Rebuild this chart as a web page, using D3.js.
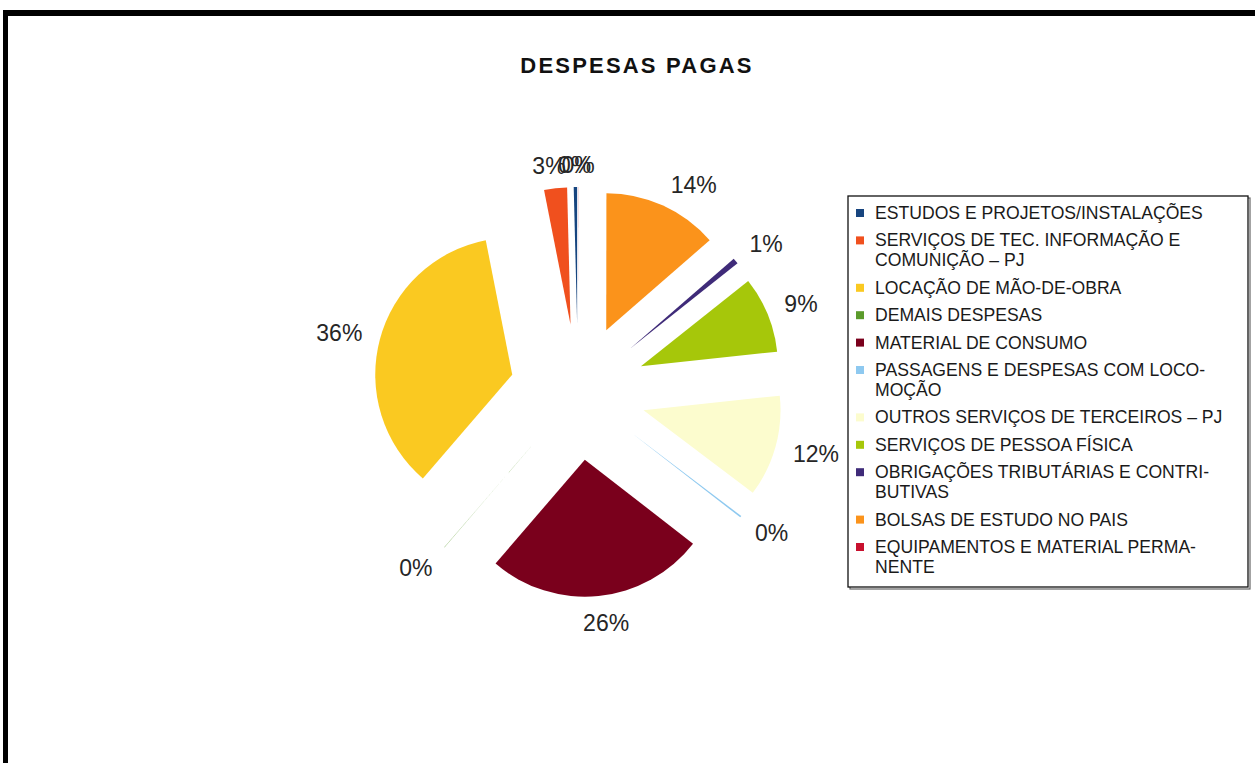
<!DOCTYPE html>
<html>
<head>
<meta charset="utf-8">
<script src="https://cdn.jsdelivr.net/npm/d3@7"></script>
<style>
  html, body { margin: 0; padding: 0; background: #fff; }
  svg { display: block; }
</style>
</head>
<body>
<svg id="chart" width="1255" height="763"></svg>
<script>
// ---- data (legend order; pie is drawn counter-clockwise from 12 o'clock) ----
const title = "DESPESAS PAGAS";
const categories = [
  "ESTUDOS E PROJETOS/INSTALAÇÕES",
  "SERVIÇOS DE TEC. INFORMAÇÃO E|COMUNIÇÃO – PJ",
  "LOCAÇÃO DE MÃO-DE-OBRA",
  "DEMAIS DESPESAS",
  "MATERIAL DE CONSUMO",
  "PASSAGENS E DESPESAS COM LOCO-|MOÇÃO",
  "OUTROS SERVIÇOS DE TERCEIROS – PJ",
  "SERVIÇOS DE PESSOA FÍSICA",
  "OBRIGAÇÕES TRIBUTÁRIAS E CONTRI-|BUTIVAS",
  "BOLSAS DE ESTUDO NO PAIS",
  "EQUIPAMENTOS E MATERIAL PERMA-|NENTE"
];
const values = [0.4, 2.7, 35.6, 0.02, 25.8, 0.2, 12.0, 9.0, 0.7, 13.6, 0.02];
const colors = [
  "#17457f", "#f0501e", "#fac921", "#5b9b2b", "#7a001c", "#8ec9f0",
  "#fcfcce", "#a6c70a", "#3f2b79", "#fb931b", "#c8102e"
];

// ---- layout ----
const svg = d3.select("#chart");
const cx = 578, cy = 392, R = 137, explode = 68, labelR = 223;
const labelFont = 23;

// frame (top and left edges of the black border)
svg.append("rect").attr("x", 3).attr("y", 10).attr("width", 1260).attr("height", 6).attr("fill", "#000");
svg.append("rect").attr("x", 3).attr("y", 10).attr("width", 5).attr("height", 760).attr("fill", "#000");

// title
svg.append("text")
  .attr("x", 637).attr("y", 73)
  .attr("text-anchor", "middle")
  .attr("font-family", "'Liberation Sans', Arial, sans-serif")
  .attr("font-weight", "bold")
  .attr("font-size", 22)
  .attr("letter-spacing", 2.2)
  .attr("fill", "#111")
  .text(title);

// pie
const pie = d3.pie().sort(null).value(d => d).startAngle(0).endAngle(-2 * Math.PI);
const arcs = pie(values);
const arc = d3.arc().innerRadius(0).outerRadius(R);
const total = d3.sum(values);

const g = svg.append("g");
g.selectAll("path.slice")
  .data(arcs)
  .join("path")
  .attr("class", "slice")
  .attr("d", arc)
  .attr("fill", (d, i) => colors[i])
  .attr("transform", d => {
    const m = (d.startAngle + d.endAngle) / 2;
    return `translate(${cx + explode * Math.sin(m)},${cy - explode * Math.cos(m)})`;
  });

// labels
const labels = g.selectAll("text.lbl")
  .data(arcs)
  .join("text")
  .attr("class", "lbl")
  .attr("font-family", "'Liberation Sans', Arial, sans-serif")
  .attr("font-size", labelFont)
  .attr("fill", "#262626")
  .attr("text-anchor", "middle")
  .text(d => Math.round(d.value / total * 100) + "%");

labels.each(function(d) {
  const m = (d.startAngle + d.endAngle) / 2;
  const s = Math.sin(m), c = Math.cos(m);
  const w = this.getComputedTextLength();
  const capH = 0.716 * labelFont;
  const px = cx + labelR * s, py = cy - labelR * c;
  const k = Math.max(-1, Math.min(1, s * 2.5));
  const x = px + (w / 2) * k;
  const yc = py - (capH / 2 + 0.5) * c + (c > 0.9 ? 4 : 0);
  d3.select(this).attr("x", x).attr("y", yc + capH / 2);
});

// legend
const lx = 848, ly = 196, lw = 400, lh = 391;
svg.append("rect").attr("x", lx + 2).attr("y", ly + 2).attr("width", lw).attr("height", lh)
  .attr("fill", "none").attr("stroke", "#666").attr("stroke-width", 1.2);
svg.append("rect").attr("x", lx).attr("y", ly).attr("width", lw).attr("height", lh)
  .attr("fill", "#fff").attr("stroke", "#111").attr("stroke-width", 1.3);

const legFont = 17.6;
const pitch = 27.4, wrap = 20;
let yy = 213;
const leg = svg.append("g");
categories.forEach((name, i) => {
  const lines = name.split("|");
  leg.append("rect")
    .attr("x", 856).attr("y", yy - 4).attr("width", 8).attr("height", 8)
    .attr("fill", colors[i]);
  const t = leg.append("text")
    .attr("font-family", "'Liberation Sans', Arial, sans-serif")
    .attr("font-size", legFont)
    .attr("fill", "#1a1a1a");
  lines.forEach((ln, j) => {
    t.append("tspan").attr("x", 875).attr("y", yy + j * wrap + 6).text(ln);
  });
  yy += pitch + (lines.length - 1) * wrap;
});
</script>
</body>
</html>
